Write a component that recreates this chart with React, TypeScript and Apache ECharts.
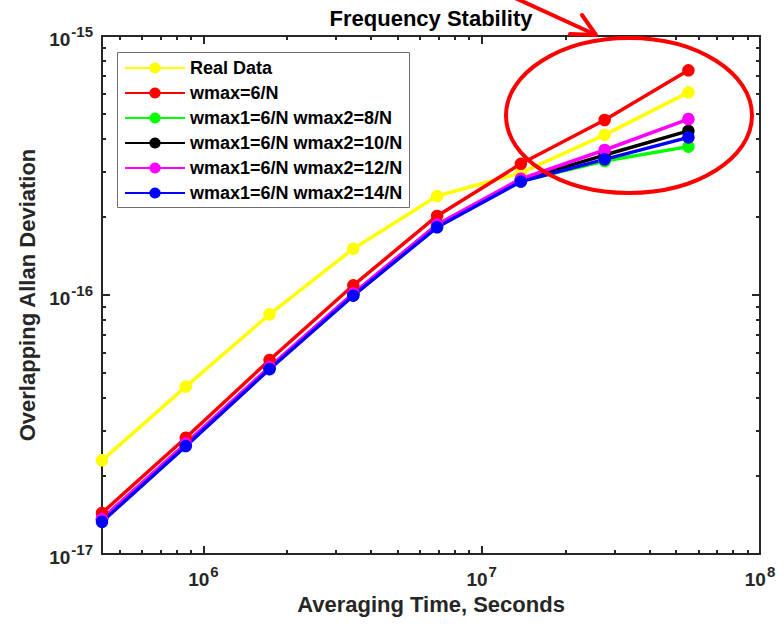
import React, { useEffect, useRef } from "react";
import * as echarts from "echarts";

// ---- data ----
const tau = [432000, 864000, 1728000, 3456000, 6912000, 13824000, 27648000, 55296000];
const seriesNames = [
  "Real Data",
  "wmax=6/N",
  "wmax1=6/N wmax2=8/N",
  "wmax1=6/N wmax2=10/N",
  "wmax1=6/N wmax2=12/N",
  "wmax1=6/N wmax2=14/N",
];
const seriesColors = ["#FFFF00", "#FF0000", "#00FF00", "#000000", "#FF00FF", "#0000FF"];
const realData = [2.3e-17, 4.43e-17, 8.42e-17, 1.51e-16, 2.41e-16, 2.96e-16, 4.15e-16, 6.06e-16];
const wmax6 = [1.44e-17, 2.81e-17, 5.61e-17, 1.09e-16, 2.02e-16, 3.21e-16, 4.74e-16, 7.37e-16];
const w6w8 = [1.358e-17, 2.65e-17, 5.23e-17, 1.005e-16, 1.847e-16, 2.755e-16, 3.29e-16, 3.74e-16];
const w6w10 = [1.365e-17, 2.66e-17, 5.25e-17, 1.009e-16, 1.864e-16, 2.78e-16, 3.47e-16, 4.3e-16];
const w6w12 = [1.365e-17, 2.67e-17, 5.27e-17, 1.014e-16, 1.87e-16, 2.81e-16, 3.63e-16, 4.78e-16];
const w6w14 = [1.332e-17, 2.61e-17, 5.17e-17, 9.94e-17, 1.826e-16, 2.74e-16, 3.34e-16, 4.06e-16];
const seriesValues = [realData, wmax6, w6w8, w6w10, w6w12, w6w14];

// axis ranges and tick values
const X_MIN = 432000;
const X_MAX = 1e8;
const Y_MIN = 1e-17;
const Y_MAX = 1e-15;
const xMajor = [1e6, 1e7, 1e8];
const yMajor = [1e-17, 1e-16, 1e-15];
const minorMult = [2, 3, 4, 5, 6, 7, 8, 9];
const xDecades = [1e5, 1e6, 1e7];
const yDecades = [1e-17, 1e-16];

const xMinor = xDecades.flatMap((d) => minorMult.map((m) => m * d)).filter((v) => v > X_MIN && v < X_MAX);
const yMinor = yDecades.flatMap((d) => minorMult.map((m) => m * d));

const AX = "#262626";
const FONT = "Liberation Sans";

const labelRich = {
  b: { fontSize: 19, fontWeight: "bold", fontFamily: FONT, color: AX, lineHeight: 19, padding: [6, 0, 0, 0] },
  s: { fontSize: 15, fontWeight: "bold", fontFamily: FONT, color: AX, lineHeight: 15, padding: [0, 0, 10, 1] },
};
const powFmt = (v: number) => `{b|10}{s|${Math.round(Math.log10(v))}}`;

function axisBase(kind: "x" | "y", position: string, major: boolean, withLabels: boolean) {
  const isX = kind === "x";
  return {
    type: "log",
    logBase: 10,
    min: isX ? X_MIN : Y_MIN,
    max: isX ? X_MAX : Y_MAX,
    position,
    axisLine: { show: major, onZero: false, lineStyle: { color: AX, width: 2 } },
    axisTick: {
      show: true,
      inside: true,
      length: major ? 8 : 4,
      customValues: major ? (isX ? xMajor : yMajor) : isX ? xMinor : yMinor,
      lineStyle: { color: AX, width: 2 },
    },
    axisLabel: withLabels
      ? {
          show: true,
          customValues: isX ? xMajor : yMajor,
          margin: isX ? 13 : 9,
          fontSize: 19,
          fontWeight: "bold",
          fontFamily: FONT,
          color: AX,
          formatter: powFmt,
          rich: labelRich,
        }
      : { show: false },
    splitLine: { show: false },
    minorTick: { show: false },
    minorSplitLine: { show: false },
  };
}

export default function App() {
  const ref = useRef<HTMLDivElement>(null);

  useEffect(() => {
    if (!ref.current) return;
    const chart = echarts.init(ref.current, undefined, { renderer: "svg" });

    const xMain: any = {
      ...axisBase("x", "bottom", true, true),
      name: "Averaging Time, Seconds",
      nameLocation: "middle",
      nameGap: 39,
      nameMoveOverlap: false,
      nameTextStyle: { fontSize: 22, fontWeight: "bold", fontFamily: FONT, color: AX },
    };
    const yMain: any = {
      ...axisBase("y", "left", true, true),
      name: "Overlapping Allan Deviation",
      nameLocation: "middle",
      nameGap: 64,
      nameMoveOverlap: false,
      nameTextStyle: { fontSize: 22, fontWeight: "bold", fontFamily: FONT, color: AX },
    };

    const option: any = {
      animation: false,
      backgroundColor: "#ffffff",
      grid: { left: 102, right: 24, top: 36, bottom: 70, containLabel: false, outerBoundsMode: "none" },
      xAxis: [
        xMain,
        axisBase("x", "bottom", false, false),
        axisBase("x", "top", true, false),
        axisBase("x", "top", false, false),
      ],
      yAxis: [
        yMain,
        axisBase("y", "left", false, false),
        axisBase("y", "right", true, false),
        axisBase("y", "right", false, false),
      ],
      legend: {
        orient: "vertical",
        left: 124,
        top: 59,
        padding: 0,
        itemGap: 7,
        itemWidth: 60,
        itemHeight: 14,
        selectedMode: false,
        data: seriesNames,
        textStyle: { fontSize: 18, fontWeight: "bold", fontFamily: FONT, color: "#000" },
        z: 6,
      },
      series: seriesNames.map((name, i) => ({
        name,
        type: "line",
        xAxisIndex: 0,
        yAxisIndex: 0,
        data: tau.map((t, j) => [t, seriesValues[i][j]]),
        symbol: "circle",
        symbolSize: 12.5,
        showSymbol: true,
        lineStyle: { color: seriesColors[i], width: 3.5 },
        itemStyle: { color: seriesColors[i] },
        emphasis: { disabled: true },
      })),
      graphic: [
        {
          type: "rect",
          z: 3,
          shape: { x: 117.5, y: 52.5, width: 292, height: 155 },
          style: { fill: "#ffffff", stroke: "#6e6e6e", lineWidth: 1 },
        },
        {
          type: "text",
          z: 10,
          x: 431,
          y: 18,
          style: {
            text: "Frequency Stability",
            fontSize: 22,
            fontWeight: "bold",
            fontFamily: FONT,
            fill: "#000",
            align: "center",
            verticalAlign: "middle",
            textAlign: "center",
            textVerticalAlign: "middle",
          },
        },
        {
          type: "ellipse",
          z: 10,
          shape: { cx: 629, cy: 115.5, rx: 123, ry: 77.5 },
          style: { fill: "none", stroke: "#FF0000", lineWidth: 4 },
        },
        {
          type: "line",
          z: 10,
          shape: { x1: 513, y1: -3, x2: 595, y2: 34.5 },
          style: { stroke: "#FF0000", lineWidth: 4 },
        },
        {
          type: "polyline",
          z: 10,
          shape: { points: [[570, 34], [596, 35], [582, 15]] },
          style: { stroke: "#FF0000", lineWidth: 4, fill: "none", lineCap: "round", lineJoin: "round" },
        },
      ],
    };

    chart.setOption(option);
    return () => chart.dispose();
  }, []);

  return (
    <div
      ref={ref}
      style={{ position: "fixed", left: 0, top: 0, width: 784, height: 624, background: "#fff" }}
    />
  );
}
